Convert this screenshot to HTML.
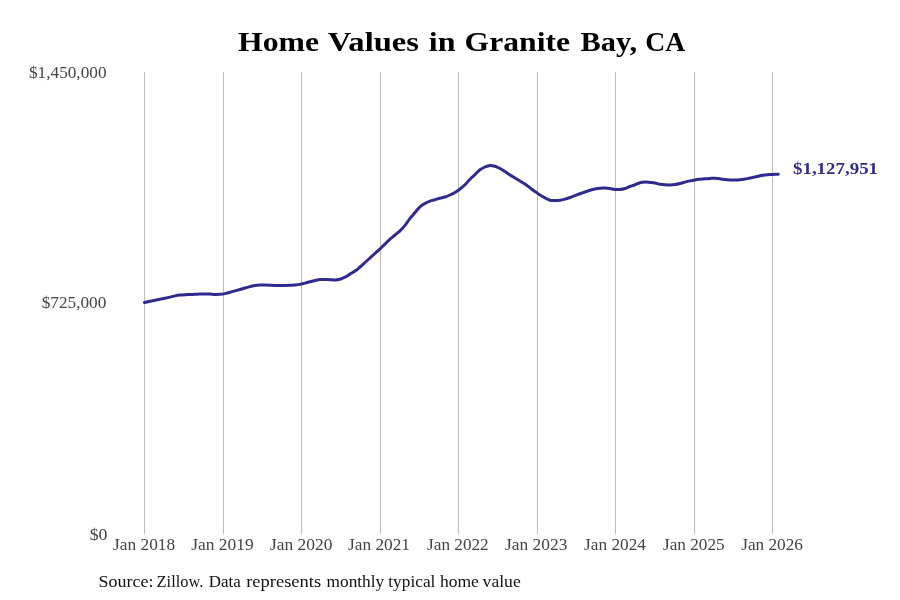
<!DOCTYPE html>
<html><head><meta charset="utf-8">
<style>
html,body{margin:0;padding:0;background:#fff;}
svg{display:block;will-change:transform;}
text{font-family:"Liberation Serif",serif;}
.tick{font-size:17px;fill:#444;}
.ylab{font-size:17px;fill:#444;}
.title{font-size:27.5px;font-weight:bold;fill:#000;}
.src{font-size:17px;fill:#111;}
.end{font-size:17px;font-weight:bold;fill:#312e8c;}
</style></head>
<body>
<svg width="900" height="600" viewBox="0 0 900 600">
<rect width="900" height="600" fill="#fff"/>
<rect x="144" y="72" width="1" height="462" fill="#bdbdbd"/>
<rect x="223" y="72" width="1" height="462" fill="#bdbdbd"/>
<rect x="301" y="72" width="1" height="462" fill="#bdbdbd"/>
<rect x="380" y="72" width="1" height="462" fill="#bdbdbd"/>
<rect x="458" y="72" width="1" height="462" fill="#bdbdbd"/>
<rect x="537" y="72" width="1" height="462" fill="#bdbdbd"/>
<rect x="615" y="72" width="1" height="462" fill="#bdbdbd"/>
<rect x="694" y="72" width="1" height="462" fill="#bdbdbd"/>
<rect x="772" y="72" width="1" height="462" fill="#bdbdbd"/>
<path d="M144.50,302.50 C145.42,302.29 148.25,301.62 150.00,301.25 C151.75,300.88 153.33,300.58 155.00,300.25 C156.67,299.92 158.33,299.58 160.00,299.25 C161.67,298.92 163.33,298.60 165.00,298.25 C166.67,297.90 168.33,297.54 170.00,297.15 C171.67,296.76 173.33,296.24 175.00,295.90 C176.67,295.56 178.33,295.30 180.00,295.10 C181.67,294.90 183.33,294.80 185.00,294.70 C186.67,294.60 188.33,294.57 190.00,294.50 C191.67,294.43 193.33,294.33 195.00,294.25 C196.67,294.17 198.33,294.06 200.00,294.00 C201.67,293.94 203.33,293.90 205.00,293.90 C206.67,293.90 208.33,293.92 210.00,294.00 C211.67,294.08 213.33,294.35 215.00,294.40 C216.67,294.45 218.33,294.43 220.00,294.30 C221.67,294.17 223.33,293.94 225.00,293.60 C226.67,293.26 228.33,292.70 230.00,292.25 C231.67,291.80 233.33,291.36 235.00,290.90 C236.67,290.44 238.33,289.98 240.00,289.50 C241.67,289.02 243.33,288.48 245.00,288.00 C246.67,287.52 248.33,287.03 250.00,286.60 C251.67,286.17 253.33,285.67 255.00,285.40 C256.67,285.13 258.33,285.05 260.00,285.00 C261.67,284.95 263.33,285.06 265.00,285.10 C266.67,285.14 268.33,285.18 270.00,285.25 C271.67,285.32 273.33,285.46 275.00,285.50 C276.67,285.54 278.33,285.52 280.00,285.50 C281.67,285.48 283.33,285.44 285.00,285.40 C286.67,285.36 288.33,285.32 290.00,285.25 C291.67,285.18 293.33,285.14 295.00,285.00 C296.67,284.86 298.33,284.72 300.00,284.40 C301.67,284.08 303.33,283.54 305.00,283.10 C306.67,282.66 308.33,282.18 310.00,281.75 C311.67,281.32 313.33,280.88 315.00,280.50 C316.67,280.12 318.33,279.68 320.00,279.50 C321.67,279.32 323.33,279.36 325.00,279.40 C326.67,279.44 328.33,279.67 330.00,279.75 C331.67,279.83 333.33,279.97 335.00,279.90 C336.67,279.82 338.33,279.75 340.00,279.30 C341.67,278.85 343.33,278.07 345.00,277.20 C346.67,276.33 348.33,275.12 350.00,274.10 C351.67,273.08 353.33,272.28 355.00,271.10 C356.67,269.92 358.33,268.43 360.00,267.00 C361.67,265.57 363.33,264.00 365.00,262.50 C366.67,261.00 368.33,259.50 370.00,258.00 C371.67,256.50 373.33,255.03 375.00,253.50 C376.67,251.97 378.33,250.37 380.00,248.80 C381.67,247.23 383.33,245.70 385.00,244.10 C386.67,242.50 388.33,240.72 390.00,239.20 C391.67,237.68 393.33,236.40 395.00,235.00 C396.67,233.60 398.33,232.40 400.00,230.80 C401.67,229.20 403.33,227.47 405.00,225.40 C406.67,223.33 408.33,220.53 410.00,218.40 C411.67,216.27 413.33,214.53 415.00,212.60 C416.67,210.67 418.33,208.33 420.00,206.80 C421.67,205.27 423.33,204.35 425.00,203.40 C426.67,202.45 428.33,201.72 430.00,201.10 C431.67,200.48 433.33,200.17 435.00,199.70 C436.67,199.22 438.33,198.70 440.00,198.25 C441.67,197.80 443.33,197.54 445.00,197.00 C446.67,196.46 448.33,195.75 450.00,195.00 C451.67,194.25 453.33,193.50 455.00,192.50 C456.67,191.50 458.33,190.28 460.00,189.00 C461.67,187.72 463.33,186.43 465.00,184.80 C466.67,183.17 468.33,180.90 470.00,179.20 C471.67,177.50 473.33,176.17 475.00,174.60 C476.67,173.03 478.33,171.07 480.00,169.80 C481.67,168.53 483.33,167.73 485.00,167.00 C486.67,166.27 488.33,165.53 490.00,165.40 C491.67,165.27 493.33,165.68 495.00,166.20 C496.67,166.72 498.33,167.60 500.00,168.50 C501.67,169.40 503.33,170.52 505.00,171.60 C506.67,172.68 508.33,173.93 510.00,175.00 C511.67,176.07 513.33,177.00 515.00,178.00 C516.67,179.00 518.33,180.00 520.00,181.00 C521.67,182.00 523.33,182.87 525.00,184.00 C526.67,185.13 528.33,186.55 530.00,187.80 C531.67,189.05 533.33,190.30 535.00,191.50 C536.67,192.70 538.33,193.93 540.00,195.00 C541.67,196.07 543.33,197.03 545.00,197.90 C546.67,198.78 548.33,199.82 550.00,200.25 C551.67,200.68 553.33,200.50 555.00,200.50 C556.67,200.50 558.33,200.48 560.00,200.25 C561.67,200.02 563.33,199.56 565.00,199.10 C566.67,198.64 568.33,198.08 570.00,197.50 C571.67,196.92 573.33,196.22 575.00,195.60 C576.67,194.97 578.33,194.35 580.00,193.75 C581.67,193.15 583.33,192.58 585.00,192.00 C586.67,191.42 588.33,190.75 590.00,190.25 C591.67,189.75 593.33,189.33 595.00,189.00 C596.67,188.67 598.33,188.40 600.00,188.25 C601.67,188.10 603.33,188.04 605.00,188.10 C606.67,188.16 608.33,188.37 610.00,188.60 C611.67,188.83 613.33,189.35 615.00,189.50 C616.67,189.65 618.33,189.67 620.00,189.50 C621.67,189.33 623.33,189.00 625.00,188.50 C626.67,188.00 628.33,187.12 630.00,186.50 C631.67,185.88 633.33,185.38 635.00,184.75 C636.67,184.12 638.33,183.21 640.00,182.75 C641.67,182.29 643.33,182.06 645.00,182.00 C646.67,181.94 648.33,182.23 650.00,182.40 C651.67,182.57 653.33,182.69 655.00,183.00 C656.67,183.31 658.33,183.96 660.00,184.25 C661.67,184.54 663.33,184.64 665.00,184.75 C666.67,184.86 668.33,184.94 670.00,184.90 C671.67,184.86 673.33,184.73 675.00,184.50 C676.67,184.27 678.33,183.90 680.00,183.50 C681.67,183.10 683.33,182.53 685.00,182.10 C686.67,181.67 688.33,181.27 690.00,180.90 C691.67,180.53 693.33,180.18 695.00,179.90 C696.67,179.62 698.33,179.44 700.00,179.25 C701.67,179.06 703.33,178.89 705.00,178.75 C706.67,178.61 708.33,178.48 710.00,178.40 C711.67,178.32 713.33,178.19 715.00,178.25 C716.67,178.31 718.33,178.53 720.00,178.75 C721.67,178.97 723.33,179.39 725.00,179.60 C726.67,179.81 728.33,179.93 730.00,180.00 C731.67,180.07 733.33,180.04 735.00,180.00 C736.67,179.96 738.33,179.92 740.00,179.75 C741.67,179.58 743.33,179.29 745.00,179.00 C746.67,178.71 748.33,178.33 750.00,178.00 C751.67,177.67 753.33,177.38 755.00,177.00 C756.67,176.62 758.33,176.08 760.00,175.75 C761.67,175.42 763.33,175.21 765.00,175.00 C766.67,174.79 768.75,174.60 770.00,174.50 C771.25,174.40 771.12,174.43 772.50,174.40 C773.88,174.37 777.33,174.32 778.30,174.30" fill="none" stroke="#2e2a90" stroke-width="3" stroke-linecap="round" stroke-linejoin="round"/>
<text x="238.00" y="51" textLength="81.00" lengthAdjust="spacingAndGlyphs" class="title">Home</text>
<text x="327.80" y="51" textLength="91.20" lengthAdjust="spacingAndGlyphs" class="title">Values</text>
<text x="428.80" y="51" textLength="26.71" lengthAdjust="spacingAndGlyphs" class="title">in</text>
<text x="464.60" y="51" textLength="105.46" lengthAdjust="spacingAndGlyphs" class="title">Granite</text>
<text x="580.50" y="51" textLength="56.51" lengthAdjust="spacingAndGlyphs" class="title">Bay,</text>
<text x="645.30" y="51" textLength="39.99" lengthAdjust="spacingAndGlyphs" class="title">CA</text>
<text x="29.00" y="78" textLength="77.51" lengthAdjust="spacingAndGlyphs" class="ylab">$1,450,000</text>
<text x="41.70" y="308" textLength="64.65" lengthAdjust="spacingAndGlyphs" class="ylab">$725,000</text>
<text x="89.70" y="540" textLength="17.75" lengthAdjust="spacingAndGlyphs" class="ylab">$0</text>
<text x="113.00" y="550" textLength="62.22" lengthAdjust="spacingAndGlyphs" class="tick">Jan 2018</text>
<text x="191.20" y="550" textLength="62.42" lengthAdjust="spacingAndGlyphs" class="tick">Jan 2019</text>
<text x="270.00" y="550" textLength="62.41" lengthAdjust="spacingAndGlyphs" class="tick">Jan 2020</text>
<text x="348.00" y="550" textLength="62.02" lengthAdjust="spacingAndGlyphs" class="tick">Jan 2021</text>
<text x="427.10" y="550" textLength="61.61" lengthAdjust="spacingAndGlyphs" class="tick">Jan 2022</text>
<text x="505.00" y="550" textLength="62.42" lengthAdjust="spacingAndGlyphs" class="tick">Jan 2023</text>
<text x="584.10" y="550" textLength="61.89" lengthAdjust="spacingAndGlyphs" class="tick">Jan 2024</text>
<text x="663.00" y="550" textLength="61.61" lengthAdjust="spacingAndGlyphs" class="tick">Jan 2025</text>
<text x="741.20" y="550" textLength="61.81" lengthAdjust="spacingAndGlyphs" class="tick">Jan 2026</text>
<text x="98.40" y="587" textLength="55.01" lengthAdjust="spacingAndGlyphs" class="src">Source:</text>
<text x="156.60" y="587" textLength="46.77" lengthAdjust="spacingAndGlyphs" class="src">Zillow.</text>
<text x="208.80" y="587" textLength="32.00" lengthAdjust="spacingAndGlyphs" class="src">Data</text>
<text x="246.20" y="587" textLength="74.90" lengthAdjust="spacingAndGlyphs" class="src">represents</text>
<text x="326.60" y="587" textLength="57.59" lengthAdjust="spacingAndGlyphs" class="src">monthly</text>
<text x="388.30" y="587" textLength="47.12" lengthAdjust="spacingAndGlyphs" class="src">typical</text>
<text x="439.90" y="587" textLength="38.96" lengthAdjust="spacingAndGlyphs" class="src">home</text>
<text x="482.60" y="587" textLength="38.12" lengthAdjust="spacingAndGlyphs" class="src">value</text>
<text x="793.00" y="174" textLength="85.04" lengthAdjust="spacingAndGlyphs" class="end">$1,127,951</text>
</svg>
</body></html>
